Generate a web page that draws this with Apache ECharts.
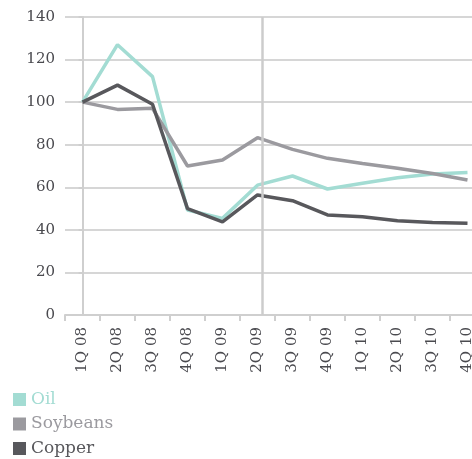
<!DOCTYPE html>
<html><head><meta charset="utf-8">
<script src="https://cdn.jsdelivr.net/npm/echarts@6/dist/echarts.min.js"></script>
<style>html,body{margin:0;padding:0;background:#fff}#c{width:472px;height:459px}</style>
</head><body><div id="c"></div>
<script>
const categories = ['1Q 08','2Q 08','3Q 08','4Q 08','1Q 09','2Q 09','3Q 09','4Q 09','1Q 10','2Q 10','3Q 10','4Q 10'];
const oil      = [100, 127, 112, 49.3, 45.4, 61, 65.3, 59.2, 61.9, 64.5, 66.2, 66.9];
const soybeans = [100, 96.6, 97.1, 70, 72.8, 83.3, 77.8, 73.6, 71.2, 68.9, 66.5, 63.4];
const copper   = [100, 108, 99, 50, 43.8, 56.4, 53.7, 47, 46.2, 44.3, 43.5, 43.1];
const yTicks = [0, 20, 40, 60, 80, 100, 120, 140];
const markerPos = 5.14; // vertical divider, in category index units

const FONT = '"DejaVu Serif", serif';
const colors = { Oil: '#a3dcd3', Soybeans: '#9b9a9f', Copper: '#58585c' };

const chart = echarts.init(document.getElementById('c'), null, { renderer: 'canvas' });
chart.setOption({
  animation: false,
  backgroundColor: '#fff',
  grid: { left: 65, top: 17, width: 420, height: 298, containLabel: false, outerBoundsMode: 'none' },
  legend: {
    orient: 'vertical', left: 8, top: 386, height: 80,
    itemWidth: 13, itemHeight: 13, itemGap: 7.5,
    icon: 'rect',
    textStyle: { fontFamily: FONT, fontSize: 17 },
    data: ['Oil','Soybeans','Copper'].map(n => ({ name: n, textStyle: { color: colors[n] } }))
  },
  xAxis: [{
    type: 'category', data: categories, boundaryGap: true,
    axisLine: { lineStyle: { color: '#cfcfcf', width: 2 } },
    axisTick: { show: true, length: 6, lineStyle: { color: '#cfcfcf', width: 2 } },
    axisLabel: { rotate: 90, margin: 12, color: '#4a4a4f', fontFamily: FONT, fontSize: 15, interval: 0 },
    splitLine: { show: false }
  }, {
    type: 'value', min: -0.5, max: 11.5, show: false, position: 'bottom'
  }],
  yAxis: {
    type: 'value', min: yTicks[0], max: yTicks[yTicks.length - 1], interval: 20,
    axisLine: { show: true, lineStyle: { color: '#cfcfcf', width: 2 } },
    axisTick: { show: true, length: 4, lineStyle: { color: '#cfcfcf', width: 2 } },
    axisLabel: { margin: 10, color: '#4a4a4f', fontFamily: FONT, fontSize: 15 },
    splitLine: { lineStyle: { color: '#d6d6d6', width: 2 } }
  },
  series: [
    { name: 'Oil', type: 'line', data: oil, symbol: 'none', lineStyle: { width: 3.5, color: colors.Oil }, itemStyle: { color: colors.Oil } },
    { name: 'Soybeans', type: 'line', data: soybeans, symbol: 'none', lineStyle: { width: 3.5, color: colors.Soybeans }, itemStyle: { color: colors.Soybeans } },
    { name: 'Copper', type: 'line', data: copper, symbol: 'none', lineStyle: { width: 3.5, color: colors.Copper }, itemStyle: { color: colors.Copper } },
    { name: 'divider', type: 'line', xAxisIndex: 1, data: [], z: 1,
      markLine: { symbol: 'none', silent: true, label: { show: false },
        lineStyle: { color: '#cccccc', width: 2.5, type: 'solid' },
        data: [{ xAxis: markerPos }] } }
  ]
});
</script></body></html>
